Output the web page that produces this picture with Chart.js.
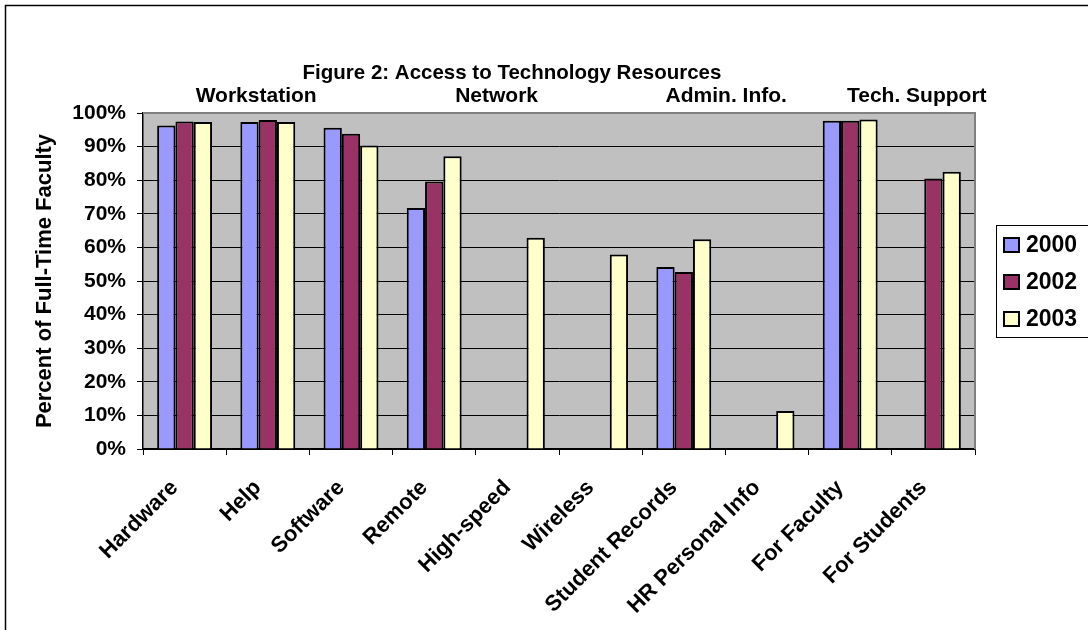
<!DOCTYPE html>
<html>
<head>
<meta charset="utf-8">
<script src="https://cdn.jsdelivr.net/npm/chart.js@4"></script>
<style>
  body { margin: 0; background: #fff; }
  #wrap { position: relative; width: 1088px; height: 630px; }
</style>
</head>
<body>
<div id="wrap"><canvas id="chartCanvas" width="1088" height="630"></canvas></div>
<script>
// data
const categories = ['Hardware', 'Help', 'Software', 'Remote', 'High-speed', 'Wireless',
  'Student Records', 'HR Personal Info', 'For Faculty', 'For Students'];
const years = ['2000', '2002', '2003'];
const pct2000 = [96.3, 97.3, 95.6, 71.7, null, null, 54.2, null, 97.7, null];
const pct2002 = [97.5, 97.9, 93.8, 79.6, null, null, 52.7, null, 97.7, 80.5];
const pct2003 = [97.3, 97.3, 90.3, 87.1, 62.9, 57.9, 62.4, 11.3, 98.1, 82.5];
const yearColors = ['#9999FF', '#993366', '#FFFFCC'];

// headings over the category groups, placed at a category index
const groupNames = ['Workstation', 'Network', 'Admin. Info.', 'Tech. Support'];
const groupSpots = [0.86, 3.75, 6.51, 8.8];

const chartTitle = 'Figure 2: Access to Technology Resources';
const yTitle = 'Percent of Full-Time Faculty';

const FONT = '"Liberation Sans", Arial, sans-serif';

// white page, outer frame and grey plot area
const backdrop = {
  id: 'backdrop',
  beforeDraw(chart) {
    const ctx = chart.ctx;
    const a = chart.chartArea;
    ctx.save();
    ctx.fillStyle = '#fff';
    ctx.fillRect(0, 0, chart.width, chart.height);
    ctx.strokeStyle = '#000';
    ctx.lineWidth = 1.5;
    ctx.beginPath();
    ctx.moveTo(5.5, chart.height + 2);
    ctx.lineTo(5.5, 5.5);
    ctx.lineTo(chart.width + 2, 5.5);
    ctx.stroke();
    ctx.fillStyle = '#C0C0C0';
    ctx.fillRect(a.left, a.top, a.right - a.left, a.bottom - a.top);
    ctx.restore();
  }
};

// title, group headings, plot frame and legend
const extras = {
  id: 'extras',
  afterDraw(chart) {
    const ctx = chart.ctx;
    const a = chart.chartArea;
    const xs = chart.scales.x;
    ctx.save();

    // grey frame on top and right of the plot
    ctx.strokeStyle = '#808080';
    ctx.lineWidth = 2;
    ctx.beginPath();
    ctx.moveTo(a.left, a.top);
    ctx.lineTo(a.right, a.top);
    ctx.lineTo(a.right, a.bottom);
    ctx.stroke();

    ctx.fillStyle = '#000';
    ctx.textAlign = 'center';
    ctx.textBaseline = 'alphabetic';
    ctx.font = 'bold 20.5px ' + FONT;
    ctx.fillText(chartTitle, 512, 79);

    ctx.font = 'bold 21px ' + FONT;
    groupNames.forEach((g, i) => {
      ctx.fillText(g, xs.getPixelForValue(groupSpots[i]), 102);
    });

    // legend, its box runs off the right edge
    const lx = 996, ly = 225;
    ctx.strokeStyle = '#000';
    ctx.lineWidth = 1;
    ctx.fillStyle = '#fff';
    ctx.fillRect(lx, ly, 110, 112);
    ctx.strokeRect(lx + 0.5, ly + 0.5, 110, 112);
    ctx.textAlign = 'left';
    ctx.textBaseline = 'middle';
    ctx.font = 'bold 23px ' + FONT;
    chart.data.datasets.forEach((ds, i) => {
      const cy = ly + 20 + i * 37;
      ctx.fillStyle = ds.backgroundColor;
      ctx.fillRect(lx + 8, cy - 7, 15, 14);
      ctx.lineWidth = 2;
      ctx.strokeRect(lx + 8, cy - 7, 15, 14);
      ctx.fillStyle = '#000';
      ctx.fillText(ds.label, lx + 30, cy + 1);
    });
    ctx.restore();
  }
};

const config = {
  type: 'bar',
  data: {
    labels: categories,
    datasets: [
      { label: years[0], data: pct2000, backgroundColor: yearColors[0] },
      { label: years[1], data: pct2002, backgroundColor: yearColors[1] },
      { label: years[2], data: pct2003, backgroundColor: yearColors[2] }
    ]
  },
  options: {
    responsive: false,
    animation: false,
    layout: { padding: { left: 6, top: 113, right: 113, bottom: 0 } },
    datasets: {
      bar: {
        borderColor: '#000',
        borderWidth: 2,
        categoryPercentage: 0.66,
        barPercentage: 1.0
      }
    },
    plugins: {
      legend: { display: false },
      title: { display: false },
      tooltip: { enabled: false }
    },
    scales: {
      x: {
        grid: { offset: true, drawOnChartArea: false, drawTicks: true, tickLength: 6, color: '#000' },
        border: { color: '#000', width: 1.5 },
        ticks: {
          color: '#000',
          font: { family: FONT, weight: 'bold', size: 22 },
          minRotation: 45,
          maxRotation: 45,
          autoSkip: false,
          labelOffset: -10,
          padding: 20
        },
        afterFit(s) { s.height = 181; }
      },
      y: {
        min: 0,
        max: 100,
        grid: { color: '#000', lineWidth: 1, tickLength: 6 },
        border: { color: '#000', width: 1.5 },
        ticks: {
          stepSize: 10,
          color: '#000',
          padding: 11,
          font: { family: FONT, weight: 'bold', size: 21 },
          callback: v => v + '%'
        },
        title: {
          display: true,
          text: yTitle,
          color: '#000',
          font: { family: FONT, weight: 'bold', size: 22 },
          padding: { top: 26, bottom: 0 }
        },
        afterFit(s) { s.width = 137; }
      }
    }
  },
  plugins: [backdrop, extras]
};

const myChart = new Chart(document.getElementById('chartCanvas'), config);
</script>
</body>
</html>
